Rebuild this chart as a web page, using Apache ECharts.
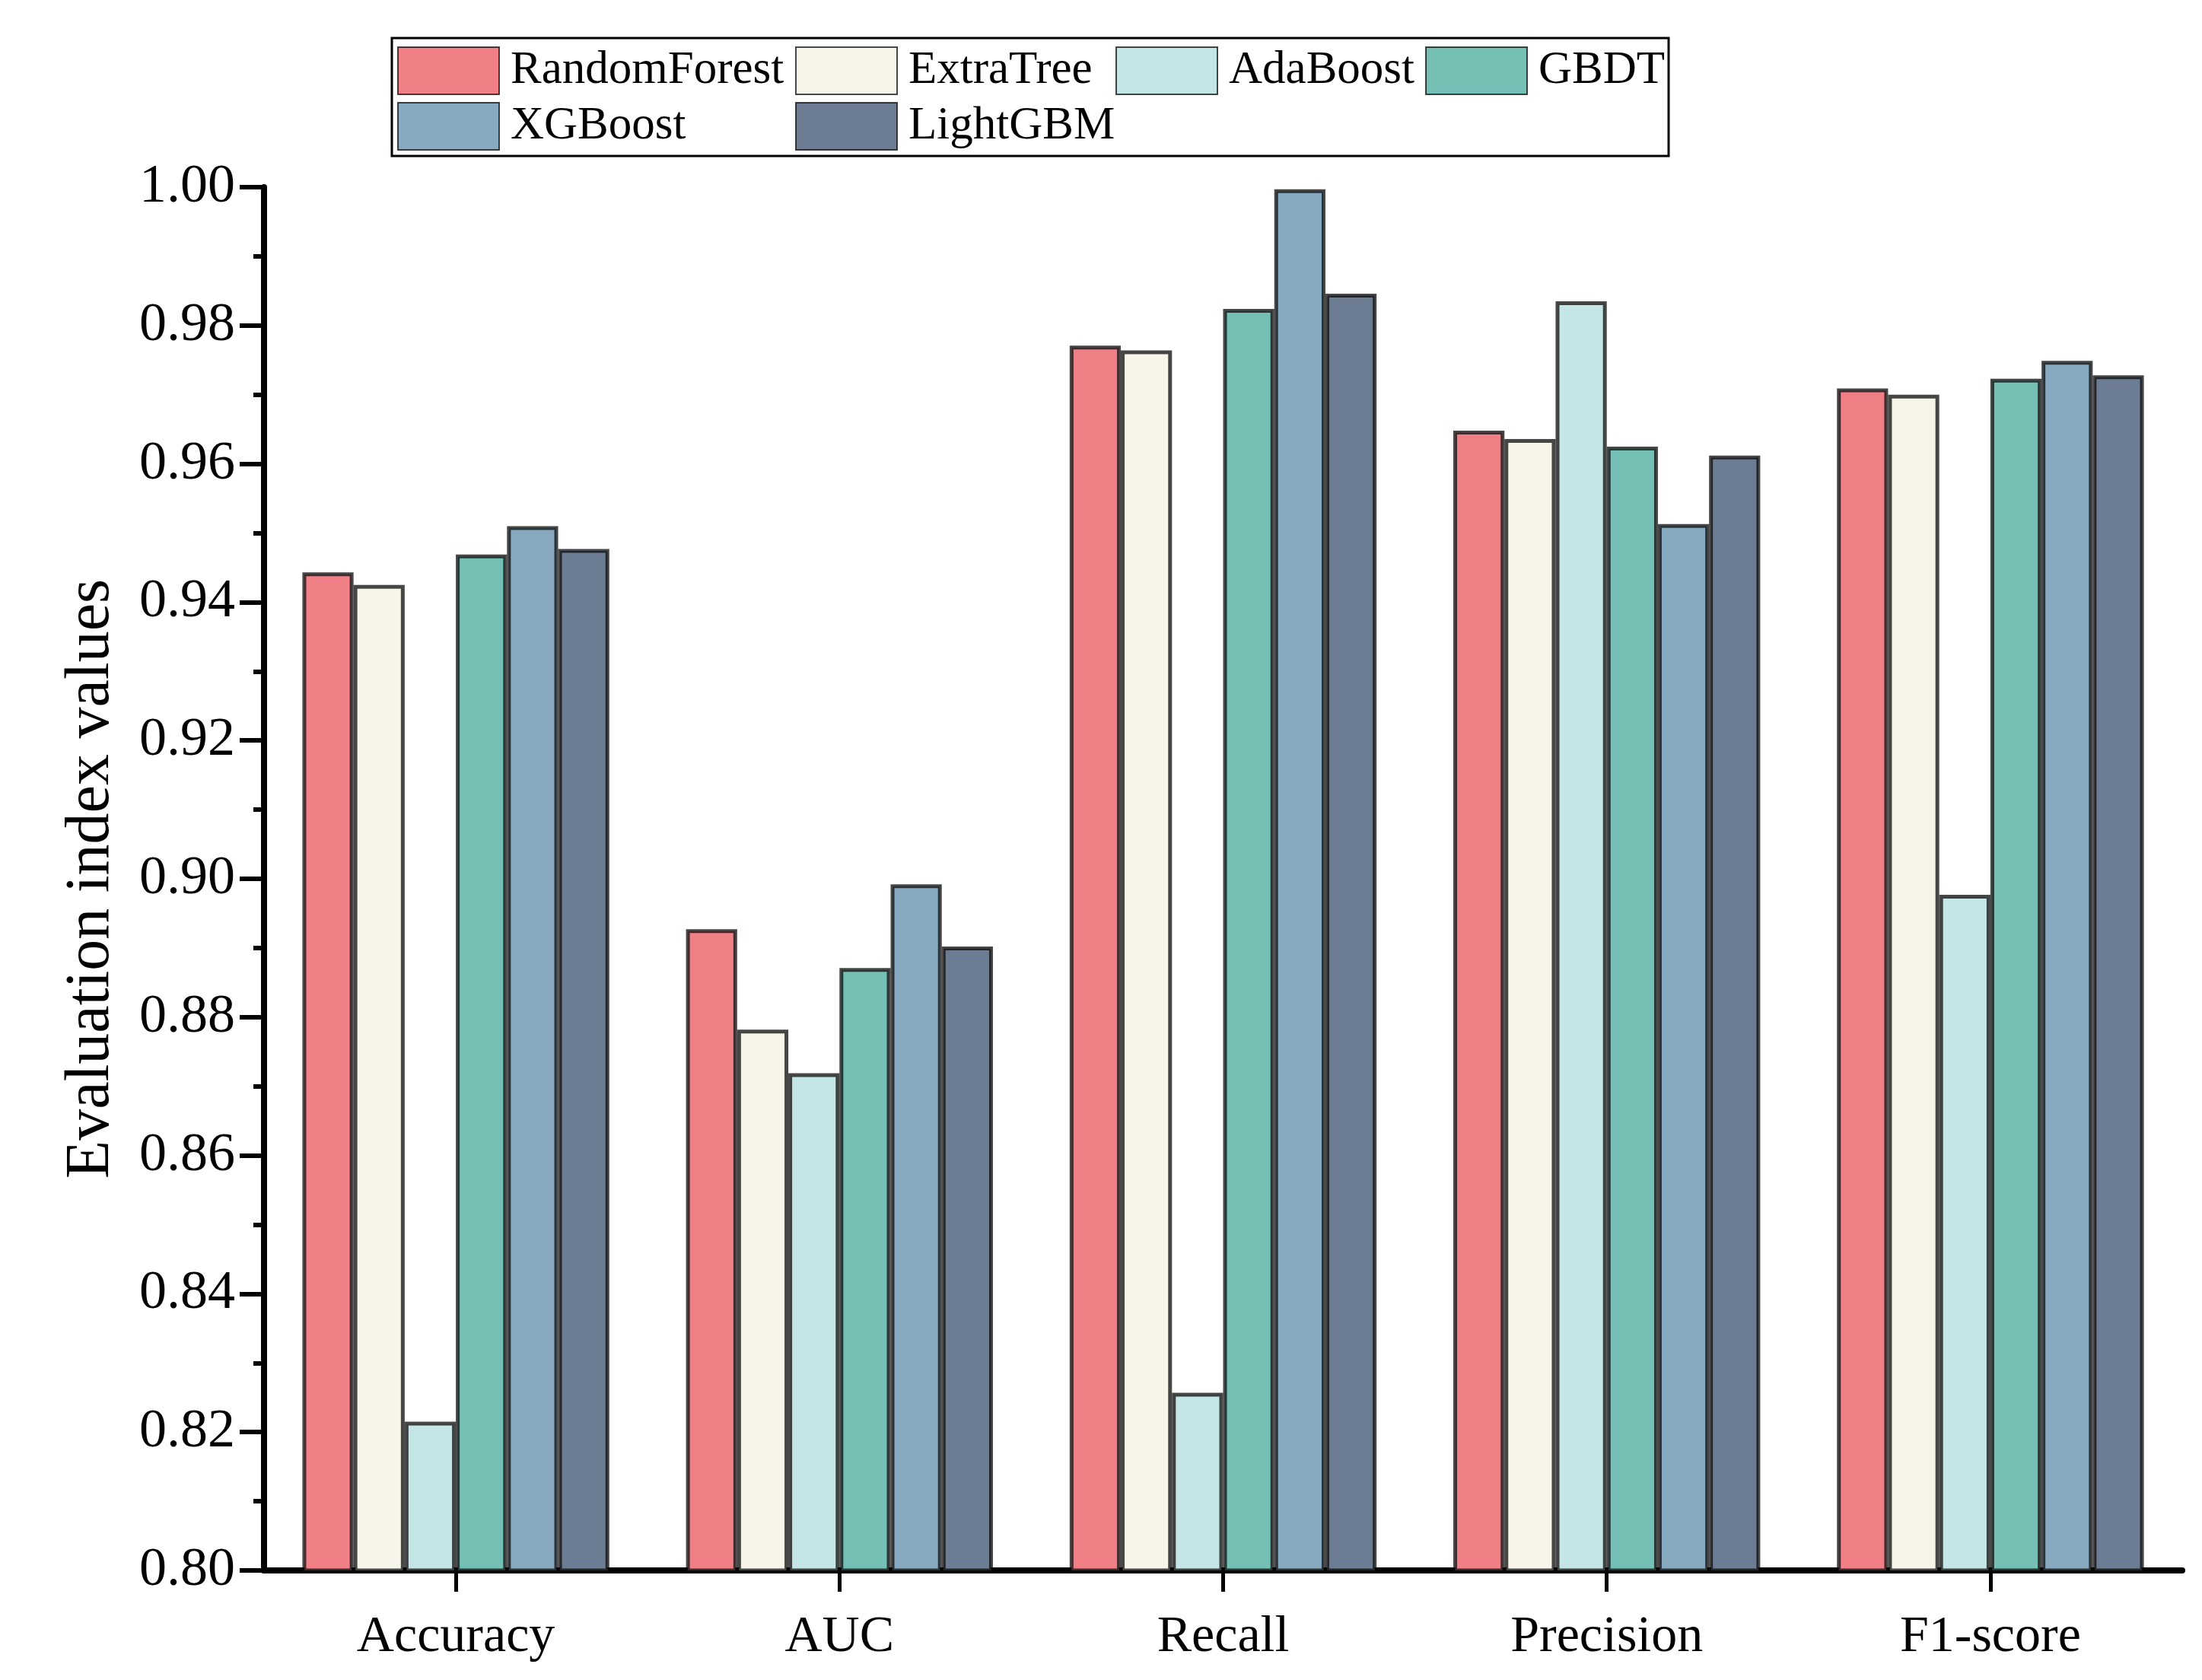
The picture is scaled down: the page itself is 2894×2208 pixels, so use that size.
<!DOCTYPE html>
<html>
<head>
<meta charset="utf-8">
<script src="https://cdn.jsdelivr.net/npm/echarts@6/dist/echarts.min.js"></script>
<style>
html,body{margin:0;padding:0;background:#fff;}
#chart{width:2894px;height:2208px;}
</style>
</head>
<body>
<div id="chart"></div>
<script>
const categories = ['Accuracy', 'AUC', 'Recall', 'Precision', 'F1-score'];
const models = ['RandomForest', 'ExtraTree', 'AdaBoost', 'GBDT', 'XGBoost', 'LightGBM'];
const randomForest = [0.9443, 0.8927, 0.9771, 0.9648, 0.9709];
const extraTree    = [0.9425, 0.8782, 0.9764, 0.9636, 0.9700];
const adaBoost     = [0.8215, 0.8719, 0.8257, 0.9835, 0.8977];
const gbdt         = [0.9469, 0.8871, 0.9824, 0.9625, 0.9723];
const xgBoost      = [0.9510, 0.8992, 0.9997, 0.9513, 0.9749];
const lightGBM     = [0.9477, 0.8902, 0.9846, 0.9612, 0.9728];
const yTicks = { min: 0.80, max: 1.00, interval: 0.02 };

const seriesValues = [randomForest, extraTree, adaBoost, gbdt, xgBoost, lightGBM];
const fills = ['#F07F86', '#F7F5EA', '#C5E6E7', '#75C0B5', '#88AAC0', '#6C7C93'];
const FONT = '"Liberation Serif", "Times New Roman", serif';

const series = models.map((m, i) => ({
  name: m,
  type: 'bar',
  data: seriesValues[i],
  barGap: '0%',
  barCategoryGap: '20%',
  itemStyle: { color: fills[i], borderColor: 'rgba(10,10,10,0.75)', borderWidth: 5 }
}));

// legend positions (layout)
const legendPos = [
  [522, 61], [1045, 61], [1466, 61], [1873, 61],
  [522, 134], [1045, 134]
];
const legends = models.map((m, i) => ({
  data: [m],
  left: legendPos[i][0],
  top: legendPos[i][1],
  orient: 'horizontal',
  padding: 0,
  itemWidth: 133,
  itemHeight: 62,
  itemGap: 0,
  selectedMode: false,
  icon: 'rect',
  textStyle: { fontFamily: FONT, fontSize: 61, color: '#000', padding: [6, 0, 0, 10] }
}));

const chart = echarts.init(document.getElementById('chart'), null, { renderer: 'canvas' });
chart.setOption({
  backgroundColor: '#fff',
  animation: false,
  grid: { left: 347, right: 26, top: 246, bottom: 144, containLabel: false },
  legend: legends,
  graphic: [{
    type: 'rect',
    shape: { x: 515, y: 50, width: 1678, height: 155 },
    style: { fill: 'none', stroke: '#000', lineWidth: 3 },
    z: 10
  }],
  xAxis: {
    type: 'category',
    data: categories,
    boundaryGap: true,
    axisLine: { lineStyle: { color: '#000', width: 8 } },
    axisTick: { show: true, alignWithLabel: true, inside: false, length: 28, lineStyle: { color: '#000', width: 5 } },
    axisLabel: { fontFamily: FONT, fontSize: 68, color: '#000', margin: 54 },
    splitLine: { show: false }
  },
  yAxis: {
    type: 'value',
    min: yTicks.min,
    max: yTicks.max,
    interval: yTicks.interval,
    name: 'Evaluation index values',
    nameLocation: 'middle',
    nameGap: 186,
    nameRotate: 90,
    nameTextStyle: { fontFamily: FONT, fontSize: 82, color: '#000' },
    axisLine: { show: true, lineStyle: { color: '#000', width: 8 } },
    axisTick: { show: true, inside: false, length: 32, lineStyle: { color: '#000', width: 6 } },
    minorTick: { show: true, splitNumber: 2, length: 14, lineStyle: { color: '#000', width: 6 } },
    axisLabel: { fontFamily: FONT, fontSize: 72, color: '#000', margin: 38,
      formatter: v => v.toFixed(2) },
    splitLine: { show: false }
  },
  series: series
});
</script>
</body>
</html>
